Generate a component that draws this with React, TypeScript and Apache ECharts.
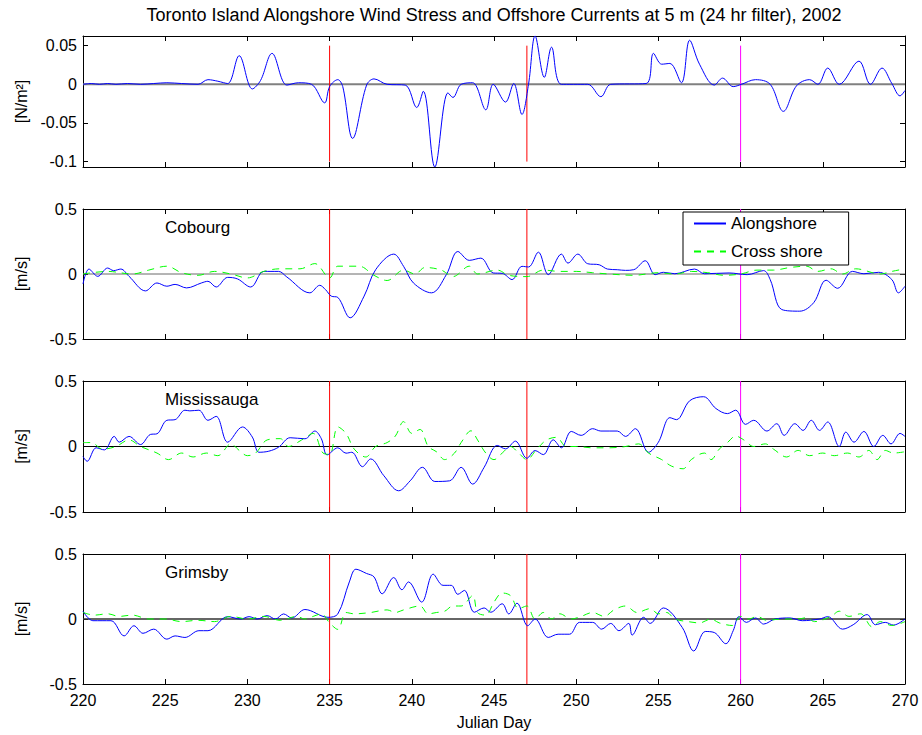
import React, { useEffect, useRef } from "react";
import * as echarts from "echarts";

const titleText = "Toronto Island Alongshore Wind Stress and Offshore Currents at 5 m (24 hr filter), 2002";
const xTicks = [220, 225, 230, 235, 240, 245, 250, 255, 260, 265, 270];
const stressTicks = [-0.1, -0.05, 0, 0.05];
const currentTicks = [-0.5, 0, 0.5];
const stationNames = ["Cobourg", "Mississauga", "Grimsby"];
const legendNames = ["Alongshore", "Cross shore"];
const eventDays = [235, 247, 260];

const windStress: number[][] = [
  [220, 0], [220.5, 0.001], [221, 0], [221.5, 0.001], [222, 0], [222.7, 0.001], [223.5, 0], [224.3, 0.001],
  [225.1, 0.002], [226, 0.001], [227, 0], [227.6, 0.006], [228.2, 0.004], [228.8, 0.001], [229.5, 0.037],
  [230.3, -0.006], [230.8, 0.005], [231.5, 0.04], [232.4, -0.001], [233.1, 0.002], [233.9, 0], [234.7, -0.024],
  [235.0, -0.003], [235.5, 0.006], [235.8, -0.003], [236.4, -0.07], [237.25, -0.001], [237.7, 0.007], [238.5, 0],
  [239.6, -0.001], [240.3, -0.03], [240.7, -0.009], [241.4, -0.107], [242.2, -0.011], [242.5, -0.017], [243.0, 0],
  [243.7, 0.002], [244.5, -0.033], [244.95, 0], [245.7, -0.023], [246.2, 0.001], [246.7, -0.039], [247.1, 0],
  [247.5, 0.0625], [248.06, 0.009], [248.5, 0.048], [249.1, 0], [250.7, 0], [251.5, -0.016], [252.1, 0],
  [254.25, 0.001], [254.7, 0.04], [255.2, 0.026], [255.7, 0.027], [256.4, 0.002], [256.9, 0.057], [257.5, 0.026],
  [258.4, -0.001], [258.9, 0.008], [259.55, -0.003], [260.05, 0], [260.9, 0.006], [261.8, 0], [262.6, -0.035],
  [263.4, -0.002], [264.2, 0.006], [264.7, 0], [265.3, 0.021], [266.0, 0], [267.2, 0.03], [267.9, 0],
  [268.6, 0.021], [269.2, 0.001], [269.7, -0.015], [270, -0.008],
];

const cobourgAlong: number[][] = [
  [220, -0.077], [220.36, 0.038], [220.9, -0.018], [221.5, 0.046], [221.86, 0.026], [222.3, 0.038], [222.8, -0.018],
  [223.8, -0.13], [224.5, -0.069], [225.1, -0.094], [225.6, -0.08], [226.3, -0.107], [227.2, -0.069], [227.6, -0.056],
  [228.1, -0.1], [228.8, -0.026], [229.4, -0.038], [230.2, -0.1], [231.0, 0.02], [231.9, 0.02], [232.4, -0.023],
  [233.8, -0.145], [234.4, -0.087], [234.75, -0.12], [235.1, -0.17], [235.5, -0.18], [236.25, -0.337], [237.1, -0.17],
  [237.8, 0.033], [238.9, 0.153], [239.5, 0.059], [240.1, -0.069], [241.2, -0.145], [242.1, -0.005], [242.8, 0.173],
  [243.5, 0.105], [244.2, 0.122], [244.95, 0.008], [245.5, 0.005], [246.1, -0.043], [246.7, 0.059], [247.1, 0.054],
  [247.7, 0.168], [248.3, -0.005], [249.1, 0.153], [249.5, 0.084], [250.1, 0.153], [250.7, 0.079], [251.4, 0.071],
  [251.9, 0.038], [252.5, 0.033], [253.0, 0.028], [253.5, 0.033], [254.2, 0.102], [254.8, -0.005], [255.3, 0.013],
  [256.0, 0.002], [257.2, 0.038], [257.8, 0.002], [259.3, 0.008], [260.4, -0.005], [261.4, 0.026], [261.8, -0.043],
  [262.5, -0.273], [263.6, -0.286], [264.45, -0.22], [265.2, -0.048], [265.9, -0.11], [266.8, 0.02], [267.5, 0.002],
  [268.4, 0.013], [269.2, -0.043], [269.6, -0.145], [270, -0.094],
];

const cobourgCross: number[][] = [
  [220, 0], [221.5, 0.02], [223, 0], [224, 0.03], [225.1, 0.06], [226, 0.01], [227, -0.01], [228, 0.02], [229, 0],
  [230, -0.03], [231, 0.02], [232, 0.04], [233.2, 0.04], [234.1, 0.08], [235, -0.03], [235.5, 0.06], [236.8, 0.06],
  [237.7, -0.01], [238.5, -0.05], [239.5, 0.03], [240.2, 0], [240.8, 0.05], [241.8, 0.03], [242.5, -0.02],
  [243.5, 0.06], [244, 0], [245.2, 0.03], [245.9, -0.01], [247, -0.02], [248, 0.03], [249, 0.02], [250, 0.02],
  [251, 0.01], [252, 0], [253.5, -0.01], [255, 0.01], [256, 0], [257, 0.02], [258, 0.01], [259, -0.01], [260, 0],
  [261, 0.03], [262, 0.03], [263, 0.05], [264, 0.06], [264.7, 0.02], [265.5, 0.04], [266.2, 0], [267, 0.04],
  [268.5, 0], [269.2, 0.02], [270, 0.04],
];

const mississaugaAlong: number[][] = [
  [220, -0.077], [220.25, -0.113], [220.8, -0.01], [221.3, -0.026], [221.9, 0.077], [222.2, 0.033], [222.8, 0.077],
  [223.5, 0.015], [224.1, 0.092], [224.5, 0.097], [225.1, 0.2], [225.6, 0.205], [226.2, 0.277], [226.5, 0.272],
  [227.05, 0.277], [227.6, 0.2], [228.1, 0.23], [228.8, 0.033], [229.7, 0.149], [230.3, 0.072], [230.7, -0.044],
  [231.3, -0.036], [231.9, -0.005], [232.6, 0.067], [233.5, 0.059], [234.1, 0.118], [234.5, 0.059], [234.85, -0.064],
  [235.5, -0.01], [236.0, -0.051], [236.35, -0.044], [237.0, -0.154], [237.5, -0.095], [238.3, -0.223], [239.2, -0.338],
  [239.9, -0.262], [240.65, -0.159], [241.4, -0.267], [242.3, -0.262], [243.0, -0.159], [243.7, -0.287], [244.4, -0.159],
  [245.2, 0.008], [245.7, -0.018], [246.3, 0.041], [247.0, -0.09], [247.5, -0.031], [248.0, -0.062], [248.6, 0.051],
  [249.1, -0.01], [249.7, 0.115], [250.3, 0.085], [251.0, 0.136], [251.5, 0.118], [252.5, 0.118], [253.0, 0.077],
  [253.6, 0.136], [254.4, -0.044], [255.0, 0.033], [255.7, 0.22], [256.1, 0.205], [256.9, 0.349], [257.75, 0.38],
  [258.5, 0.29], [259.2, 0.251], [259.7, 0.277], [260.3, 0.169], [260.8, 0.2], [261.6, 0.118], [262.2, 0.174],
  [262.65, 0.085], [263.3, 0.174], [263.8, 0.123], [264.3, 0.2], [264.8, 0.123], [265.3, 0.187], [266.0, 0],
  [266.4, 0.11], [266.9, 0.033], [267.5, 0.115], [268.1, 0], [268.65, 0.085], [269.15, 0.02], [269.7, 0.1], [270, 0.077],
];

const mississaugaCross: number[][] = [
  [220, 0.03], [220.5, 0.03], [221.2, -0.02], [222, 0], [222.8, 0.05], [223.5, 0], [224.5, -0.05], [225.2, -0.1],
  [226, -0.05], [226.7, -0.08], [227.5, -0.05], [228.2, -0.07], [229, 0.02], [229.5, -0.03], [230, -0.07],
  [230.5, -0.05], [231.2, 0.05], [232, 0.06], [232.5, 0], [233.3, 0.05], [234, 0.1], [234.6, -0.05], [235, -0.06],
  [235.5, 0.15], [236, 0.1], [236.5, -0.02], [237.2, -0.08], [237.8, 0], [238.5, 0.03], [239, 0.08], [239.5, 0.19],
  [240, 0.1], [240.5, 0.13], [241, 0], [241.5, -0.04], [242, -0.1], [242.6, -0.05], [243, 0.03], [243.6, 0.12],
  [244, 0.05], [244.5, -0.05], [245, -0.1], [245.5, -0.05], [246, 0], [246.5, -0.05], [247, -0.1], [247.6, -0.02],
  [248.2, 0.05], [248.8, 0.07], [249.4, 0], [250, 0], [251, -0.01], [252, -0.01], [253, 0], [253.8, 0.02],
  [254.4, -0.05], [255.2, -0.1], [255.8, -0.15], [256.5, -0.17], [257, -0.1], [257.8, -0.05], [258.2, -0.1],
  [258.7, -0.02], [259.2, 0.03], [259.7, 0.08], [260.2, 0.05], [260.8, 0], [261.5, 0.02], [262, -0.02], [262.8, -0.08],
  [263.5, -0.03], [264.2, -0.07], [265, -0.05], [265.7, -0.07], [266.5, -0.05], [267.2, -0.08], [267.8, -0.03],
  [268.3, -0.1], [268.8, -0.03], [269.3, -0.05], [270, -0.04],
];

const grimsbyAlong: number[][] = [
  [220, 0.06], [220.6, -0.013], [221.7, -0.013], [222.5, -0.13], [223.1, -0.052], [223.65, -0.11], [224.3, -0.078],
  [225.1, -0.155], [225.6, -0.13], [226.2, -0.142], [227.05, -0.09], [227.6, -0.09], [228.8, 0.018], [229.6, 0],
  [230.1, 0.018], [230.6, 0], [231.2, 0.026], [231.7, 0], [232.2, 0.039], [232.7, 0.008], [233.5, 0.073],
  [234.9, 0.013], [235.5, 0.039], [236.2, 0.285], [236.6, 0.383], [237.25, 0.35], [237.7, 0.324], [238.2, 0.194],
  [238.9, 0.319], [239.4, 0.225], [239.8, 0.285], [240.6, 0.13], [241.3, 0.345], [241.9, 0.259], [242.4, 0.259],
  [242.8, 0.19], [243.2, 0.22], [243.8, 0.052], [244.4, 0.085], [244.8, 0.052], [245.5, 0.117], [245.9, 0.039],
  [246.4, 0.122], [247.05, -0.052], [247.5, 0], [248.3, -0.142], [248.9, -0.117], [249.6, -0.117], [250.2, -0.026],
  [251.0, -0.026], [251.55, -0.078], [252.1, -0.034], [252.6, -0.09], [253.2, -0.034], [253.4, -0.124], [254.1, 0.013],
  [254.5, -0.034], [255.3, 0.085], [256.45, -0.065], [257.15, -0.246], [257.85, -0.096], [258.4, -0.104], [259.1, -0.19],
  [259.55, -0.09], [259.9, 0.018], [260.35, -0.026], [260.9, 0.008], [261.4, -0.039], [262.1, 0], [263.0, 0.008],
  [263.75, -0.013], [264.8, 0], [265.3, 0.018], [266.2, -0.078], [266.85, -0.044], [267.7, 0.034], [268.2, -0.044],
  [268.8, -0.026], [269.3, -0.047], [270, 0],
];

const grimsbyCross: number[][] = [
  [220, 0.05], [220.7, 0.03], [221.5, 0.04], [222.2, 0.02], [223, 0.03], [224, 0], [225, 0], [226, -0.02], [227, -0.01],
  [228, -0.02], [229, 0.02], [230, 0], [231, 0.02], [232, -0.01], [233, 0.02], [233.5, 0], [234, 0.02], [234.5, 0.04],
  [235, -0.03], [235.5, -0.08], [236, 0.05], [236.5, 0.04], [237.5, 0.05], [238.5, 0.07], [239, 0.05], [239.5, 0.07],
  [240.5, 0.1], [241, 0.04], [241.5, 0.05], [242, 0.06], [242.5, 0.1], [243, 0.1], [243.7, 0.18], [244, 0.05],
  [244.5, 0.03], [245, 0.13], [245.5, 0.2], [246, 0.18], [246.5, 0.08], [247, 0.1], [247.5, 0], [248, 0.05],
  [248.5, 0], [249, 0.04], [249.7, 0], [250.3, 0.02], [251, 0.05], [251.7, 0.02], [252.3, 0.07], [253, 0.1],
  [253.7, 0.05], [254.5, 0.08], [255, 0.04], [255.5, 0.05], [256, 0], [256.8, -0.02], [257.5, -0.03], [258.2, 0],
  [258.7, -0.03], [259.5, -0.05], [260, 0.02], [260.5, 0], [261, 0.02], [261.6, -0.01], [262.5, 0], [263.5, 0],
  [264, 0.01], [264.5, -0.02], [265.5, 0.02], [266, 0.06], [266.6, 0.02], [267.3, 0.04], [268, -0.06], [268.5, -0.02],
  [269.2, -0.05], [270, -0.02],
];

const FONT = "'Liberation Sans', Arial, Helvetica, sans-serif";
const PLOT_LEFT = 83;
const PLOT_WIDTH = 822;
const panelTops = [36, 209, 381, 554];
const panelHeights = [131, 130, 131, 130];

function buildOption() {
  const grid: any[] = [];
  const xAxis: any[] = [];
  const yAxis: any[] = [];
  const series: any[] = [];
  const graphic: any[] = [];

  const along = [cobourgAlong, mississaugaAlong, grimsbyAlong];
  const cross = [cobourgCross, mississaugaCross, grimsbyCross];
  const zeroColors = ["#808080", "#6a6a6a", "#000000", "#333333"];
  const zeroWidths = [2, 1, 1, 1.5];

  for (let i = 0; i < 4; i++) {
    grid.push({ left: PLOT_LEFT, width: PLOT_WIDTH, top: panelTops[i], height: panelHeights[i], containLabel: false });
    const isBottom = i === 3;
    const baseX = {
      gridIndex: i,
      type: "value",
      min: 220,
      max: 270,
      interval: 5,
      axisLine: { show: true, onZero: false, lineStyle: { color: "#000", width: 1 } },
      axisTick: { show: true, inside: true, length: 5, lineStyle: { color: "#000" } },
      splitLine: { show: false },
    };
    xAxis.push({
      ...baseX,
      position: "bottom",
      axisLabel: {
        show: isBottom,
        color: "#000",
        fontSize: 16,
        fontFamily: FONT,
        margin: 8,
        formatter: (v: number) => (xTicks.includes(v) ? String(v) : ""),
      },
      name: isBottom ? "Julian Day" : "",
      nameLocation: "middle",
      nameGap: 30,
      nameTextStyle: { color: "#000", fontSize: 16, fontFamily: FONT },
    });
    xAxis.push({ ...baseX, position: "top", axisLabel: { show: false } });

    const ticks = i === 0 ? stressTicks : currentTicks;
    const ymin = i === 0 ? -0.107 : -0.5;
    const ymax = i === 0 ? 0.0625 : 0.5;
    const baseY = {
      gridIndex: i,
      type: "value",
      min: ymin,
      max: ymax,
      axisLine: { show: true, onZero: false, lineStyle: { color: "#000", width: 1 } },
      axisTick: { show: true, inside: true, length: 5, customValues: ticks, lineStyle: { color: "#000" } },
      splitLine: { show: false },
    };
    yAxis.push({
      ...baseY,
      position: "left",
      axisLabel: {
        show: true,
        color: "#000",
        fontSize: 16,
        fontFamily: FONT,
        margin: 6,
        customValues: ticks,
        formatter: (v: number) => String(Math.round(v * 1000) / 1000),
      },
      name: i === 0 ? "[N/m²]" : "[m/s]",
      nameLocation: "middle",
      nameGap: 54,
      nameRotate: 90,
      nameTextStyle: { color: "#000", fontSize: 16, fontFamily: FONT },
    });
    yAxis.push({ ...baseY, position: "right", axisLabel: { show: false } });

    const xi = 2 * i;
    const yi = 2 * i;

    series.push({
      type: "line",
      xAxisIndex: xi,
      yAxisIndex: yi,
      data: [[220, 0], [270, 0]],
      symbol: "none",
      silent: true,
      lineStyle: { color: zeroColors[i], width: zeroWidths[i] },
      z: 1,
    });

    eventDays.forEach((d, k) => {
      const lo = i === 0 ? -0.1 : -0.5;
      const hi = i === 0 ? 0.05 : 0.5;
      series.push({
        type: "line",
        xAxisIndex: xi,
        yAxisIndex: yi,
        data: [[d, lo], [d, hi]],
        symbol: "none",
        silent: true,
        lineStyle: { color: k === 2 ? "#ff00ff" : "#ff0000", width: 1 },
        z: 2,
      });
    });

    if (i === 0) {
      series.push({
        type: "line",
        name: "Wind stress",
        xAxisIndex: xi,
        yAxisIndex: yi,
        data: windStress,
        symbol: "none",
        smooth: 0.35,
        lineStyle: { color: "#0000ff", width: 1 },
        z: 3,
      });
    } else {
      series.push({
        type: "line",
        name: legendNames[0],
        xAxisIndex: xi,
        yAxisIndex: yi,
        data: along[i - 1],
        symbol: "none",
        smooth: 0.35,
        itemStyle: { color: "#0000ff" },
        lineStyle: { color: "#0000ff", width: 1 },
        z: 3,
      });
      series.push({
        type: "line",
        name: legendNames[1],
        xAxisIndex: xi,
        yAxisIndex: yi,
        data: cross[i - 1],
        symbol: "none",
        smooth: 0.35,
        itemStyle: { color: "#00ff00" },
        lineStyle: { color: "#00ff00", width: 1, type: [7, 6] },
        z: 3,
      });
      graphic.push({
        type: "text",
        x: 165,
        y: panelTops[i] + 18,
        style: {
          text: stationNames[i - 1],
          fontSize: 17,
          fontFamily: FONT,
          fill: "#000",
          textVerticalAlign: "middle",
        },
      });
    }
  }

  graphic.push({
    type: "text",
    x: PLOT_LEFT + PLOT_WIDTH / 2,
    y: 15,
    style: {
      text: titleText,
      fontSize: 18,
      fontFamily: FONT,
      fill: "#000",
      textAlign: "center",
      textVerticalAlign: "middle",
    },
  });

  return {
    animation: false,
    backgroundColor: "#fff",
    grid,
    xAxis,
    yAxis,
    series,
    graphic,
    legend: {
      data: legendNames,
      orient: "vertical",
      left: 683,
      top: 212,
      itemWidth: 32,
      itemHeight: 14,
      itemGap: 11,
      padding: [3, 26, 5, 10],
      borderColor: "#000",
      borderWidth: 1,
      backgroundColor: "#fff",
      itemStyle: { opacity: 0 },
      textStyle: { color: "#000", fontSize: 17, fontFamily: FONT },
    },
  };
}

export default function App() {
  const ref = useRef<HTMLDivElement>(null);
  useEffect(() => {
    if (!ref.current) return;
    const chart = echarts.init(ref.current, undefined, { renderer: "svg" });
    chart.setOption(buildOption() as any);
    return () => chart.dispose();
  }, []);
  return (
    <div style={{ position: "fixed", left: 0, top: 0, width: 922, height: 735, background: "#fff" }}>
      <div ref={ref} style={{ width: 922, height: 735 }} />
    </div>
  );
}
